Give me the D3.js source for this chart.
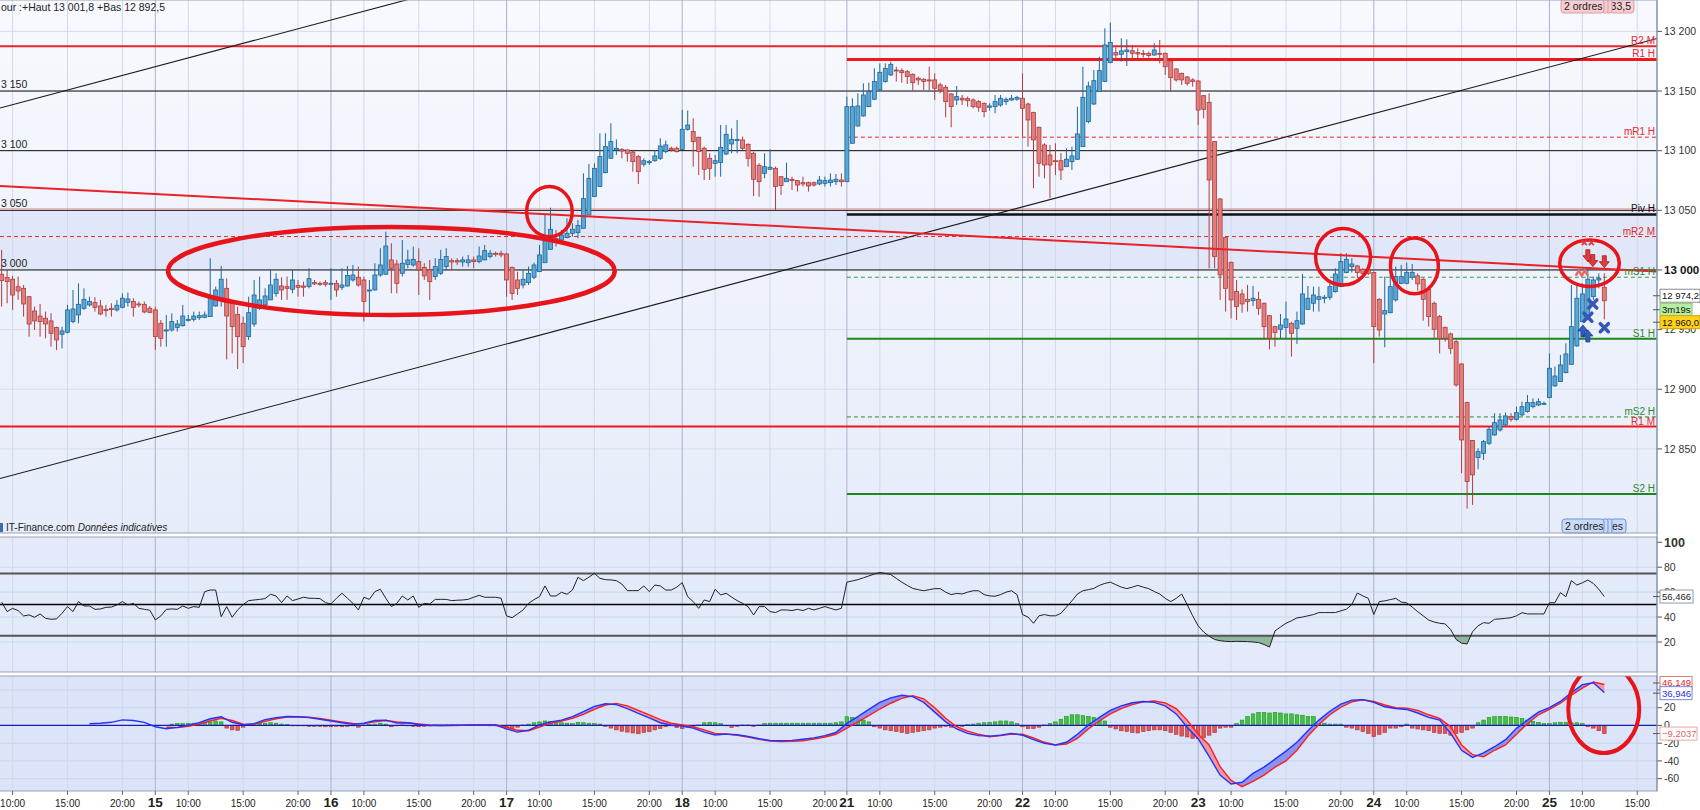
<!DOCTYPE html>
<html>
<head>
<meta charset="utf-8">
<script src="https://cdn.jsdelivr.net/npm/d3@7"></script>
<style>
  body { margin: 0; background: #fff; overflow: hidden; }
  svg { display: block; font-family: "Liberation Sans", Arial, sans-serif; }
</style>
</head>
<body>
<svg id="chart" width="1700" height="810"></svg>
<script>
// ---- data (30 min candles, index 0 = day 14 09:00) ----
const candles = [ // [open, high, low, close]
  [12996.4,13016.8,12969.3,12991.1],[12993.6,13000.0,12972.1,12990.2],[12992.2,12995.0,12966.5,12979.0],[12986.0,12994.4,12974.9,12982.4],
  [12984.6,12987.4,12960.9,12971.5],[12977.6,12978.2,12944.1,12954.7],[12965.6,12969.3,12949.7,12957.3],[12961.4,12971.5,12944.1,12956.7],
  [12959.5,12965.1,12942.7,12954.7],[12957.3,12963.7,12935.7,12946.9],[12951.7,12952.5,12932.9,12941.3],[12946.1,12952.5,12934.3,12948.9],
  [12947.8,12970.7,12946.9,12966.5],[12956.7,12983.2,12955.3,12967.3],[12962.3,12988.8,12955.3,12971.2],[12967.9,12984.6,12966.5,12975.4],
  [12970.7,12977.6,12969.3,12973.5],[12972.6,12977.1,12965.1,12968.7],[12969.8,12974.9,12962.3,12963.1],[12967.0,12970.7,12960.9,12965.9],
  [12967.6,12972.1,12960.9,12967.0],[12966.5,12974.9,12965.1,12970.4],[12968.7,12980.4,12967.9,12976.3],[12972.9,12981.0,12969.3,12975.7],
  [12973.5,12976.3,12960.9,12968.7],[12971.5,12973.5,12968.7,12970.7],[12971.2,12973.5,12963.7,12964.8],[12967.9,12969.8,12963.7,12964.5],
  // day 15
  [12966.5,12969.3,12933.0,12944.1],[12955.3,12958.1,12935.7,12942.7],[12949.2,12962.3,12935.7,12949.7],[12949.7,12963.7,12948.3,12956.7],
  [12951.9,12958.1,12948.3,12954.7],[12953.3,12970.7,12952.5,12961.4],[12958.1,12962.3,12956.7,12958.6],[12958.6,12965.1,12956.7,12961.4],
  [12960.0,12965.1,12958.1,12961.7],[12960.3,12965.1,12959.5,12962.3],[12960.9,13009.8,12960.9,12976.3],[12969.8,12986.0,12969.3,12983.2],
  [12974.9,13003.4,12969.3,12992.2],[12984.6,12993.0,12925.0,12961.4],[12972.1,12974.9,12930.0,12952.5],[12962.8,12969.3,12917.0,12944.1],
  [12955.3,12960.9,12922.0,12935.7],[12944.1,12977.6,12941.3,12964.2],[12954.7,12991.6,12952.5,12979.0],[12967.9,12994.4,12966.5,12974.9],
  [12970.7,12984.6,12969.3,12978.2],[12974.9,13000.6,12974.9,12987.4],[12980.4,12997.2,12977.6,12992.2],[12986.6,12993.9,12974.9,12983.2],
  [12986.0,12994.4,12974.9,12984.6],[12983.8,13000.0,12980.4,12991.6],[12987.1,12991.6,12977.6,12985.5],[12986.6,12990.2,12977.6,12985.5],
  [12986.0,13001.4,12984.6,12992.7],[12989.4,12991.6,12987.4,12988.3],[12988.8,12990.2,12986.6,12988.3],[12989.4,12991.6,12986.0,12988.0],
  // day 16
  [12988.0,13001.4,12974.9,12988.8],[12988.8,12991.6,12977.6,12983.2],[12985.5,13001.4,12983.2,12987.4],[12986.6,13003.4,12986.0,12995.3],
  [12991.6,13004.2,12990.2,12995.8],[12993.9,13002.8,12986.0,12987.4],[12991.6,12994.4,12956.7,12973.5],[12982.7,12991.6,12963.7,12983.2],
  [12983.2,13005.6,12982.7,12995.8],[12995.8,13018.2,12994.4,13004.2],[12996.4,13032.1,12995.8,13020.1],[13008.4,13022.4,12980.4,13001.4],
  [13005.0,13008.4,12980.4,12988.8],[12997.2,13025.1,12994.4,13005.6],[13004.7,13016.8,13001.4,13008.4],[13004.2,13019.6,13002.8,13008.9],
  [13007.0,13018.2,12979.0,13000.0],[13002.2,13005.6,12991.6,12995.0],[13000.0,13008.4,12974.9,12990.2],[12994.4,13009.8,12991.6,13002.8],
  [12997.2,13016.8,12995.8,13008.9],[13002.8,13018.2,13000.0,13011.2],[13007.8,13009.8,13000.0,13006.7],[13007.8,13009.8,13004.2,13006.7],
  [13006.7,13011.2,13002.8,13008.4],[13006.1,13012.6,13002.8,13008.4],[13008.4,13011.2,13001.4,13007.0],[13007.0,13019.6,13005.6,13011.7],
  [13008.4,13021.0,13008.4,13016.2],[13011.2,13016.8,13009.8,13014.0],[13014.0,13015.4,13011.2,13013.1],[13014.0,13016.2,13010.6,13012.6],
  // day 17
  [13013.4,13014.0,12977.6,12991.6],[13002.2,13002.8,12974.9,12980.4],[12991.6,12998.6,12979.0,12984.6],[12987.4,13000.0,12984.6,12992.2],
  [12989.4,13002.8,12987.4,12997.2],[12993.9,13006.1,12992.2,13004.2],[12998.6,13021.0,12998.6,13012.6],[13006.1,13046.1,13006.1,13025.1],
  [13017.3,13052.2,13016.8,13034.1],[13026.3,13033.5,13019.6,13025.1],[13025.1,13033.5,13023.7,13029.3],[13027.1,13043.3,13026.5,13030.7],
  [13030.7,13039.1,13027.9,13034.1],[13031.3,13041.9,13026.5,13037.2],[13034.9,13081.0,13034.9,13059.8],[13046.1,13088.9,13046.1,13076.8],
  [13061.5,13089.4,13061.5,13085.2],[13069.9,13114.6,13069.9,13095.0],[13081.6,13114.6,13081.0,13103.4],[13093.6,13122.9,13093.6,13107.6],
  [13100.6,13109.5,13096.4,13102.0],[13101.1,13102.0,13093.6,13099.7],[13100.6,13101.1,13090.8,13097.8],[13098.9,13100.6,13082.4,13090.8],
  [13095.0,13096.4,13072.1,13082.4],[13088.6,13093.6,13086.6,13091.6],[13090.0,13092.2,13088.0,13090.8],[13091.6,13100.6,13090.8,13095.6],
  [13093.6,13110.4,13092.2,13103.9],[13099.2,13108.4,13097.8,13104.8],[13102.0,13103.4,13099.2,13100.6],[13102.0,13103.4,13098.4,13099.2],
  // day 18
  [13101.1,13134.1,13100.6,13117.9],[13117.9,13133.6,13116.8,13121.5],[13116.0,13127.1,13086.6,13107.6],[13111.2,13111.8,13079.6,13099.2],
  [13102.0,13103.4,13075.4,13084.4],[13093.6,13097.8,13075.4,13085.2],[13089.4,13096.4,13078.2,13091.6],[13090.0,13121.5,13078.2,13102.8],
  [13097.2,13121.5,13096.4,13113.7],[13105.6,13118.7,13097.8,13109.5],[13108.4,13125.7,13097.8,13109.5],[13109.0,13111.8,13100.6,13102.0],
  [13105.3,13106.2,13086.6,13093.6],[13097.8,13099.2,13062.0,13076.0],[13087.7,13089.4,13061.5,13074.0],[13081.0,13097.8,13076.8,13086.6],
  [13084.4,13101.1,13083.8,13086.1],[13085.2,13086.6,13050.3,13069.9],[13078.2,13078.2,13062.9,13070.7],[13074.0,13090.0,13074.0,13076.8],
  [13076.0,13078.2,13067.1,13074.9],[13074.9,13075.4,13065.7,13071.2],[13073.2,13078.2,13069.9,13072.1],[13073.2,13074.0,13065.7,13070.4],
  [13073.2,13074.0,13069.9,13071.2],[13072.1,13078.8,13071.2,13075.4],[13072.6,13078.2,13069.9,13074.9],[13073.2,13081.0,13069.9,13075.4],
  [13074.0,13080.5,13071.2,13076.0],[13075.4,13081.0,13069.9,13074.0],
  // day 21
  [13074.0,13145.3,13074.0,13136.9],[13106.2,13143.9,13106.2,13136.9],[13120.7,13148.1,13120.1,13137.5],[13129.1,13156.5,13128.5,13146.7],
  [13136.9,13157.0,13136.4,13149.5],[13143.1,13169.0,13142.5,13157.9],[13150.9,13173.2,13150.3,13165.7],[13157.9,13173.2,13157.0,13169.0],
  [13163.5,13174.6,13162.6,13172.4],[13167.6,13170.4,13157.9,13166.8],[13167.1,13169.0,13157.0,13165.4],[13166.2,13167.6,13155.9,13162.1],
  [13164.0,13164.8,13150.3,13157.0],[13160.7,13162.1,13155.1,13159.3],[13159.8,13160.7,13150.9,13157.9],[13159.3,13170.4,13150.3,13158.4],
  [13159.3,13164.8,13142.5,13152.3],[13155.1,13157.0,13148.1,13150.9],[13153.1,13155.1,13128.0,13141.1],[13147.5,13148.1,13119.6,13136.9],
  [13142.5,13154.2,13138.3,13145.3],[13143.9,13146.7,13138.3,13142.5],[13143.6,13145.3,13136.9,13141.9],[13142.5,13143.9,13135.5,13136.9],
  [13141.1,13142.5,13132.7,13136.4],[13139.7,13140.3,13128.0,13132.7],[13136.4,13139.7,13133.6,13137.5],[13136.9,13146.7,13131.3,13141.1],
  [13138.3,13146.7,13136.9,13143.9],[13141.1,13144.7,13138.3,13143.1],[13142.5,13146.7,13141.9,13143.9],[13143.1,13145.9,13141.9,13144.5],
  // day 22
  [13143.9,13164.8,13111.8,13135.5],[13139.1,13140.3,13103.4,13125.7],[13131.9,13132.7,13068.5,13109.0],[13119.6,13120.1,13078.2,13089.4],
  [13104.8,13106.2,13076.8,13088.0],[13096.4,13104.8,13060.1,13088.0],[13091.6,13106.2,13079.6,13090.8],[13091.6,13097.8,13075.4,13083.8],
  [13086.6,13102.0,13086.6,13092.8],[13090.8,13103.4,13083.8,13095.6],[13092.8,13136.9,13092.2,13114.0],[13103.4,13170.4,13103.4,13144.7],
  [13124.3,13157.9,13122.9,13154.2],[13139.1,13167.6,13138.3,13158.7],[13149.5,13178.8,13149.5,13167.1],[13157.9,13202.6,13157.9,13188.6],
  [13173.8,13207.3,13173.2,13190.8],[13182.2,13186.6,13176.0,13180.2],[13180.8,13194.2,13174.6,13183.6],[13183.0,13193.3,13171.0,13184.4],
  [13183.8,13188.6,13176.0,13181.6],[13182.2,13185.8,13177.4,13181.1],[13181.6,13184.4,13178.0,13180.8],[13181.6,13183.0,13178.0,13179.7],
  [13180.2,13190.0,13179.7,13184.4],[13181.6,13192.8,13173.2,13180.8],[13181.6,13182.2,13163.5,13170.4],[13175.2,13176.0,13149.5,13161.2],
  [13168.5,13169.0,13157.9,13159.3],[13164.8,13165.4,13155.1,13159.3],[13161.8,13162.6,13154.5,13156.5],[13159.3,13160.7,13153.7,13157.9],
  // day 23
  [13158.4,13159.3,13121.5,13134.1],[13146.1,13146.7,13127.1,13134.7],[13140.5,13148.1,13001.4,13075.4],[13107.6,13108.1,13001.4,13011.2],
  [13059.5,13060.1,12974.9,12995.8],[13027.1,13027.9,12965.1,12984.6],[13006.4,13007.0,12959.5,12974.9],[12982.0,12991.6,12958.1,12969.3],
  [12979.9,12983.8,12964.2,12971.5],[12975.4,12987.4,12965.1,12973.5],[12974.3,12986.6,12969.8,12976.3],[12975.4,12981.8,12962.3,12967.9],
  [12972.1,12972.6,12941.3,12952.5],[12961.7,12962.3,12933.5,12942.7],[12952.5,12953.1,12935.7,12947.5],[12950.3,12963.1,12942.7,12953.9],
  [12951.9,12973.5,12942.7,12958.9],[12955.3,12956.7,12927.4,12946.9],[12951.1,12965.1,12938.0,12957.5],[12954.7,12996.6,12953.9,12979.9],
  [12967.0,12986.6,12966.5,12976.3],[12972.1,12986.0,12965.1,12979.0],[12975.4,12986.0,12965.1,12977.6],[12976.3,12979.0,12972.1,12977.1],
  [12977.1,12988.8,12974.9,12986.0],[12981.8,13001.4,12981.0,12996.6],[12986.0,13014.0,12986.0,13007.0],[12997.8,13014.0,12997.2,13008.9],
  [13002.8,13009.8,12997.8,13005.0],[13003.4,13004.2,12993.0,12997.8],[13000.6,13001.4,12995.8,12997.2],[13000.0,13001.4,12995.8,12997.2],
  // day 24
  [12997.8,12998.6,12921.8,12952.5],[12975.4,12976.3,12944.1,12949.7],[12963.1,12994.4,12935.2,12965.9],[12964.2,12997.2,12963.7,12986.0],
  [12974.9,13002.8,12973.5,12994.4],[12988.8,13004.2,12988.0,12994.4],[12988.8,13006.1,12988.0,12998.0],[12993.9,13005.0,12991.6,12998.0],
  [12995.0,12997.2,12982.7,12988.3],[12992.2,12993.0,12957.5,12975.4],[12983.8,12984.6,12952.5,12960.9],[12972.1,12973.5,12942.7,12950.3],
  [12960.9,12962.3,12930.1,12942.7],[12951.9,12952.5,12939.9,12942.7],[12946.4,12947.5,12929.6,12934.3],[12939.9,12941.3,12902.2,12903.6],
  [12921.2,12921.8,12829.6,12857.5],[12888.8,12889.6,12800.0,12822.6],[12857.0,12857.5,12803.0,12828.2],[12842.7,12850.5,12832.9,12847.7],
  [12846.3,12857.5,12840.7,12856.1],[12854.7,12868.7,12853.3,12866.4],[12861.7,12879.9,12860.9,12872.0],[12865.9,12879.9,12864.5,12874.3],
  [12870.1,12880.4,12869.2,12877.6],[12877.1,12879.9,12872.9,12874.8],[12874.8,12885.4,12873.7,12880.4],[12878.5,12889.6,12877.6,12885.4],
  [12881.3,12895.2,12880.4,12888.8],[12885.4,12892.4,12884.0,12888.8],[12886.8,12892.4,12885.9,12889.6],[12887.7,12889.6,12886.8,12888.2],
  // day 25
  [12893.0,12930.1,12892.5,12917.6],[12902.8,12919.0,12902.2,12911.1],[12906.4,12928.8,12906.4,12920.4],[12913.9,12938.5,12913.4,12929.6],
  [12920.9,12987.4,12920.4,12952.5],[12936.3,12987.4,12935.7,12976.3],[12956.7,12988.8,12956.7,12979.9],[12960.3,13001.8,12959.5,12992.2],
  [12977.6,12994.4,12974.9,12991.6],[12991.6,12997.2,12984.6,12993.0],[12985.5,12997.2,12958.6,12974.2]
];

const rsiValues = [
  52,44.4,47,45.2,40.9,41.7,39.8,42.5,39,38.2, 38.5,43,48.4,44.4,52.4,48.9,48.9,46.2,46.5,47.8,
  48,49.7,52.4,49.7,51,47,46.2,45.5,37.7,40.9, 46.2,46.5,46.2,48.9,47,48.4,47.8,60.4,61.7,61.7,
  40.3,48.4,39.8,45.7,50,53.2,53.7,54.2,54.8,58.3, 56.9,51.6,56.9,53.2,54.5,55.9,55.1,55,54.8,51.6,
  50.5,55.1,59.1,55.1,51,45.7,55.9,54.2,60.4,62.3, 55,48.4,51,56.9,53.7,56.9,47.8,51,50.5,54.2,
  54.2,54.2,53.2,53.5,53.7,54.2,55.9,57.4,55.9,55.9, 55.9,55.1,40.9,39.5,42.5,45.7,51,54,56.4,65,
  56.9,56.9,59.9,58.3,61.7,71.9,69.2,72,75.1,71.1, 70,69.8,69.2,66.5,61.2,61.2,61.2,65,60.4,65.7,
  65,61.7,61.7,64,67.6,56.4,52.4,47,53.7,52.4, 62.3,57.7,59.1,56,53.2,51,48.4,41.7,48.4,48.4,
  44.4,43.6,45.7,45.7,45.2,46.2,45.2,47,45.7,47, 48.4,47,45.7,47,68,69,70,71.5,73,74.5,
  75.8,75,74.1,71,68,65.4,63,62,61.1,62, 62.8,62.8,60,58,59,58.5,60,61.1,61.1,58,
  57,56.7,58,60,61.1,58,42,40,35,41, 42,41,41,43,48,53,58.5,61.1,62,63,
  65.4,67,68,66,64,62.8,64,65.4,64,62.8, 60.5,58.5,55,52.4,55,58.5,50,41,33,28,
  24.6,22,21,20.5,20.3,20.5,20.4,20.3,20,19.5, 18,15.9,28.9,32,35,37,39.3,40,41,42,
  43.6,43.6,43.6,43.6,45,46.3,50,59.3,57,55, 42,52.4,53,54,55,52,51.4,48,44.3,41,
  37.6,36,35,34.5,30,22,19,18.4,28.3,33, 35.5,35,38.2,38.5,39,39.5,41,43.5,42.5,42.5,
  42.5,42.5,51.5,51.5,59.6,56.3,69.2,65.7,67.5,69.7, 67,62.3,56.5
];

// MACD read every second candle, from candle 16 to 292
const macdFirstIndex = 16;
const macdLine = [
  1.9,2.4,3.5,6.2,5.5,3.5,-1.5,-3.8,-2.2,0.2, 3.2,7.5,9.8,3.5,0.8,2.0,6.5,8.8,10.1,9.8,
  8.8,7.0,5.0,3.0,1.2,2.5,5.5,6.0,2.6,3.0, 1.0,0,0,0.2,0.3,0.5,0.5,0.5,-3.8,-7.5,
  -5.5,0.5,4.0,6.0,10.0,15.5,21.5,24.4,23.5,19.0, 13.5,8.5,3.0,0.2,-0.7,-3.0,-7.5,-10.8,-9.8,-10.5,
  -12.5,-15,-17,-17.2,-16.8,-15.5,-14,-11.5,-8,2.3, 10,18,26,31,34,32.5,26,15,4,-4,
  -9,-11.5,-12,-11,-9,-11,-16,-20.2,-22.1,-19, -10,0.5,9,17,22,25.5,27,26,22,13,
  -2,-15,-35,-56,-66,-64,-54,-47,-38,-29, -19,-6,6,16,24,28.5,29,26,21,19,
  18,14,9,6,-9,-28,-36,-31,-24,-16, -3.3,6,15,20,27,37,46,48,37
];
const signalLine = [
  null,null,null,null,null,null,null,-2,-2.5,-1, 1.5,5,8,5.5,1.5,1.2,4.5,7.5,9.4,9.8,
  9.2,7.8,6,4,2.2,2,4,5.5,3.8,3, 1.6,0.4,0,0,0.2,0.4,0.5,0.5,-2,-5.5,
  -6,-2,2.5,5,8,12.5,18,23,24.8,22, 17,12,6.5,2.5,0.5,-1.5,-5,-9,-9.7,-11,
  -13,-15.7,-17.5,-18.3,-18,-17.2,-15.5,-13,-10,-3, 4,11,18.5,25,30.5,33.5,30,20,8,-1.5,
  -6.5,-10,-12.7,-11.5,-9.7,-10,-14,-19,-22.1,-21, -14.5,-4,5,13,19,23.5,26.5,27.5,25.5,19,
  6,-10,-22,-46.5,-62,-69,-63,-56,-47,-40, -28,-12,1,12,20.5,26.5,29,27,23,20,
  19.5,17,12,8,-1.5,-22,-33,-35.3,-28,-22, -10,2,12,18,25,34,42,49,46.1
];

// histogram, one bar per candle from candle 30
const histFirstIndex = 30;
const histValues = [
  0,1.5,2,2,2.5,2.5,2.5,3,4,5, 4,-3,-5,-5.5,-2,1,2,2.5,2.5,3,
  2.5,1.5,1,-0.5,-0.5,-0.5,-1,-1,-1,-1.5, -1.5,-1,-1.5,-1,-0.5,-2,0.5,1,1.5,2.5,
  1.5,-1.5,-0.5,0.5,-0.5,-1,-1.5,-1,-0.5,0.5, 0.5,0.5,0.5,0.5,0.3,0.3,-0.3,0.3,-0.3,-0.5,
  -0.5,-1.5,-4,-4.5,-2,0.5,1.5,3,4,5, 4.5,3.5,3,2.5,2,3.5,3,2.5,2,1.5,
  -1,-3,-5,-6.5,-7.5,-8.5,-9.4,-8,-7,-5, -3.5,-1.5,-0.5,-2.5,-3.5,-2,-1,0.5,3,3.5,
  3,2,-0.5,-2.5,-1,0.5,0.5,-1,0.5,2, 2.5,2.5,2.5,2.5,2.5,2.5,2.5,2.5,2.5,2.5,
  2.5,2.5,3,4,9.8,9,8,6,4,-1.5, -3,-5,-6,-7,-8,-9,-8,-7,-6,-5,
  -3,-2,-1,-2,-1,-1,1,1.5,2.5,3, 3.5,4,5,5,4,2,-1.5,-3.5,-3.5,-2,
  0.5,2,4,7,10,12,12,11,10,9, 8,5,-2,-4,-6,-7,-8,-8.5,-7,-6,
  -5,-5,-6,-8,-10,-12,-13,-14.7,-15,-14, -11,-8,-3,-2,-2,2,6,10,13,14.6,
  14.6,14,14.6,14,13,13,12,11.5,10,10, 2,2.5,1.5,1.5,1.5,-2,-3,-5,-7,-9,
  -12.7,-10,-8,-3,-3,-1.5,1.5,-3,-4,-5, -6,-8,-9,-9,-11,-9,-8,-5,-3,3,
  6,9,10,10,10,9.5,9,8,6,4.5, 3.5,2,2,3,3.5,3.5,3,3,2,-1.5,
  -3,-6,-9.2
];

// x axis ticks (candle index of each label)
const tickIndex = [2,12,22, 28,34,44,54, 60,66,76,86, 92,98,108,118, 124,130,140,150,
  154,160,170,180, 186,192,202,212, 218,224,234,244, 250,256,266,276, 282,288,298];
const tickLabels = ["10:00","15:00","20:00", "15","10:00","15:00","20:00", "16","10:00","15:00","20:00",
  "17","10:00","15:00","20:00", "18","10:00","15:00","20:00", "21","10:00","15:00","20:00",
  "22","10:00","15:00","20:00", "23","10:00","15:00","20:00", "24","10:00","15:00","20:00",
  "25","10:00","15:00"];

const priceTicks = [12850,12900,12950,13000,13050,13100,13150,13200];
const rsiTicks = [20,40,60,80,100];
const macdTicks = [-60,-40,-20,0,20,40];

// pivot levels
const levelNames = ["R2 M","R1 H","mR1 H","Piv H","mR2 M","mS1 H","S1 H","mS2 H","R1 M","S2 H"];
const levelPrices = [13187.5,13176.5,13111.3,13046.5,13028,12993.9,12942.4,12876.8,12868.7,12812.2];
const levelStart = [-0.3,154,154,154,-0.3,154,154,154,-0.3,154];

// round-number lines (label cut at the left edge)
const roundPrices = [13150,13100,13050,13000];
const roundLabels = ["3 150","3 100","3 050","3 000"];

// trendlines: [start index, start price, end index, end price]
const trendBlack = [[-0.3,13135.8,80,13234.0],[-0.3,12825.2,301.6,13194.1]];
const trendRed = [[-0.3,13070.4,301.6,12998.7]];

// hand-drawn circles on the price panel
const circleIndex = [71.0,99.8,244.4,257.4,289.3];
const circlePrice = [12999.2,13048.9,13011.1,13003.4,13005.6];
const circleRadIndex = [40.7,4.15,5.0,4.37,5.43];
const circleRadPrice = [36.9,21,23.7,23.3,19.5];
const macdCircle = [291.9,18.5,6.47,49.6];

// order markers near the last candles
const markerType = ["redx","down","down","down","chev","bluex","bluex","bluex","up","up"];
const markerIndex = [289,289,289.9,292,287.9,289.9,289,292,288.1,289];
const markerPrice = [13022.4,13011.1,13007,13006.1,12997.7,12971.5,12960.4,12951.6,12949.7,12945.5];

const lastPrice = 12974.2, bidPrice = 12960.0, countdown = "3m19s";
const rsiLast = 56.466, signalLast = 46.149, macdLast = 36.946, histLast = -9.2037;

// ---- layout ----
const plotR = 1657;
const mainB = 533, rsiT = 537, rsiB = 672, macdT = 676, macdB = 791;

const svg = d3.select("#chart");
const x = d3.scaleLinear().domain([-0.3, 301.6]).range([0, plotR]);
const yP = d3.scaleLinear().domain([12779.5, 13226.3]).range([mainB, 0]);
const yR = d3.scaleLinear().domain([-4.1, 104.25]).range([rsiB, rsiT]);
const yM = d3.scaleLinear().domain([-73.9, 55.7]).range([macdB, macdT]);

const fr = d3.formatLocale({decimal: ",", thousands: " ", grouping: [3], currency: ["", ""]});
const fmtP = fr.format(",.0f");
const fmt1 = fr.format(",.1f");

const defs = svg.append("defs");
const g1 = defs.append("linearGradient").attr("id", "mainBg").attr("x1", 0).attr("y1", 0).attr("x2", 0).attr("y2", 1);
g1.append("stop").attr("offset", "0%").attr("stop-color", "#f8f9fe");
g1.append("stop").attr("offset", "100%").attr("stop-color", "#e6ecfa");
defs.append("clipPath").attr("id", "clipMain").append("rect").attr("width", plotR).attr("height", mainB);
defs.append("clipPath").attr("id", "clipRsi").append("rect").attr("y", rsiT).attr("width", plotR).attr("height", rsiB - rsiT);
defs.append("clipPath").attr("id", "clipMacd").append("rect").attr("y", macdT).attr("width", plotR).attr("height", macdB - macdT);
defs.append("clipPath").attr("id", "clipLow").append("rect").attr("y", yR(25)).attr("width", plotR).attr("height", rsiB - yR(25));
defs.append("clipPath").attr("id", "clipHigh").append("rect").attr("y", rsiT).attr("width", plotR).attr("height", yR(75) - rsiT);

svg.append("rect").attr("width", 1700).attr("height", 810).attr("fill", "#fff");

// panel backgrounds
svg.append("rect").attr("width", plotR).attr("height", mainB).attr("fill", "url(#mainBg)");
svg.append("rect").attr("y", yP(13050)).attr("width", plotR).attr("height", yP(13000) - yP(13050)).attr("fill", "#dfe7f9");
svg.append("rect").attr("y", rsiT).attr("width", plotR).attr("height", rsiB - rsiT).attr("fill", "#e3eafa");
svg.append("rect").attr("y", macdT).attr("width", plotR).attr("height", macdB - macdT).attr("fill", "#dbe4f8");

// grid
const grid = svg.append("g");
grid.selectAll(".hp").data(priceTicks).join("line")
  .attr("x1", 0).attr("x2", plotR).attr("y1", d => yP(d)).attr("y2", d => yP(d))
  .attr("stroke", "#d6dcea");
grid.selectAll(".hr").data(rsiTicks.filter(d => d < 100)).join("line")
  .attr("x1", 0).attr("x2", plotR).attr("y1", d => yR(d)).attr("y2", d => yR(d))
  .attr("stroke", "#cdd6ec");
grid.selectAll(".hm").data(macdTicks.filter(d => d !== 0)).join("line")
  .attr("x1", 0).attr("x2", plotR).attr("y1", d => yM(d)).attr("y2", d => yM(d))
  .attr("stroke", "#c8d2ea");
const isDay = l => l.indexOf(":") < 0;
[[0, mainB], [rsiT, rsiB], [macdT, macdB]].forEach(([t, b]) => {
  grid.append("g").selectAll("line").data(tickIndex).join("line")
    .attr("x1", d => x(d)).attr("x2", d => x(d)).attr("y1", t).attr("y2", b)
    .attr("stroke", (d, i) => isDay(tickLabels[i]) ? "#aab3c9" : "#d2d9e8");
});

// ---- price panel ----
const main = svg.append("g").attr("clip-path", "url(#clipMain)");

main.selectAll(".round").data(roundPrices).join("line")
  .attr("x1", 0).attr("x2", plotR).attr("y1", d => yP(d)).attr("y2", d => yP(d))
  .attr("stroke", "#111").attr("stroke-width", 1);
main.append("line").attr("x1", 0).attr("x2", plotR)
  .attr("y1", yP(13050) - 1.5).attr("y2", yP(13050) - 1.5).attr("stroke", "#f19a9a");

const levelStyle = {
  "R2 M": ["#e8262a", 2, null], "R1 H": ["#f01818", 3, null], "mR1 H": ["#e8262a", 1, "4,3"],
  "Piv H": ["#111", 2.5, null], "mR2 M": ["#e8262a", 1, "4,3"], "mS1 H": ["#3a9a3a", 1, "4,3"],
  "S1 H": ["#1d861d", 2, null], "mS2 H": ["#2d862d", 1, "4,3"], "R1 M": ["#f01818", 2, null], "S2 H": ["#1d861d", 2, null]
};
levelNames.forEach((n, i) => {
  const s = levelStyle[n];
  main.append("line")
    .attr("x1", x(levelStart[i])).attr("x2", plotR)
    .attr("y1", yP(levelPrices[i])).attr("y2", yP(levelPrices[i]))
    .attr("stroke", s[0]).attr("stroke-width", s[1]).attr("stroke-dasharray", s[2]);
});

main.selectAll(".tb").data(trendBlack).join("line")
  .attr("x1", d => x(d[0])).attr("y1", d => yP(d[1])).attr("x2", d => x(d[2])).attr("y2", d => yP(d[3]))
  .attr("stroke", "#1a1a1a").attr("stroke-width", 1.1);

// candles
const upFill = "#58a7d5", upLine = "#1f6699", dnFill = "#e27d7d", dnLine = "#b03c3c";
const cg = main.append("g");
candles.forEach((c, i) => {
  const [o, h, l, cl] = c;
  const up = cl >= o;
  const cx = x(i);
  cg.append("line").attr("x1", cx).attr("x2", cx).attr("y1", yP(h)).attr("y2", yP(l))
    .attr("stroke", up ? upLine : dnLine).attr("stroke-width", 1);
  const top = yP(Math.max(o, cl)), bot = yP(Math.min(o, cl));
  cg.append("rect").attr("x", cx - 2).attr("width", 4)
    .attr("y", top).attr("height", Math.max(1, bot - top))
    .attr("fill", up ? upFill : dnFill).attr("stroke", up ? upLine : dnLine).attr("stroke-width", 0.8);
});

main.selectAll(".tr").data(trendRed).join("line")
  .attr("x1", d => x(d[0])).attr("y1", d => yP(d[1])).attr("x2", d => x(d[2])).attr("y2", d => yP(d[3]))
  .attr("stroke", "#ea2128").attr("stroke-width", 2);

// circles
circleIndex.forEach((k, i) => {
  main.append("ellipse")
    .attr("cx", x(k)).attr("cy", yP(circlePrice[i]))
    .attr("rx", x(k + circleRadIndex[i]) - x(k))
    .attr("ry", yP(circlePrice[i] - circleRadPrice[i]) - yP(circlePrice[i]))
    .attr("fill", "none").attr("stroke", "#e8141c").attr("stroke-width", i === 0 ? 4.5 : 3.5);
});

// markers
markerType.forEach((t, i) => {
  const mx = x(markerIndex[i]), my = yP(markerPrice[i]);
  const m = main.append("g").attr("transform", `translate(${mx},${my})`);
  if (t === "down") {
    m.append("path").attr("d", "M-2,-7 L2,-7 L2,-1 L5,-1 L0,5 L-5,-1 L-2,-1 Z")
      .attr("fill", "#e23a3a").attr("stroke", "#a81c1c").attr("stroke-width", 0.8);
  } else if (t === "up") {
    m.append("path").attr("d", "M-2,7 L2,7 L2,1 L5,1 L0,-5 L-5,1 L-2,1 Z")
      .attr("fill", "#2f5fbf").attr("stroke", "#1c3c8c").attr("stroke-width", 0.8);
  } else if (t === "bluex") {
    m.append("path").attr("d", "M-4,-4 L4,4 M4,-4 L-4,4")
      .attr("stroke", "#3557b5").attr("stroke-width", 3.5).attr("stroke-linecap", "round");
  } else if (t === "redx") {
    m.append("path").attr("d", "M-6,-3 L-1,2 M-1,-3 L-6,2 M1,-3 L6,2 M6,-3 L1,2")
      .attr("stroke", "#e23a3a").attr("stroke-width", 1.8);
  } else {
    m.append("path").attr("d", "M-6,3 L-3,-2 L0,3 L3,-2 L6,3")
      .attr("fill", "none").attr("stroke", "#e36a6a").attr("stroke-width", 2.5);
  }
});

// level labels (right) and round labels (left)
const lblColor = n => n === "Piv H" ? "#111" : (levelStyle[n][0].startsWith("#e") || levelStyle[n][0].startsWith("#f") ? "#e8262a" : "#2a8a2a");
svg.append("g").selectAll("text").data(levelNames).join("text")
  .attr("x", plotR - 2).attr("y", (d, i) => yP(levelPrices[i]) - 2)
  .attr("text-anchor", "end").attr("font-size", 10).attr("fill", d => lblColor(d)).text(d => d);
svg.append("g").selectAll("text").data(roundLabels).join("text")
  .attr("x", 1).attr("y", (d, i) => yP(roundPrices[i]) - 3)
  .attr("font-size", 10.5).attr("fill", "#222").text(d => d);

svg.append("text").attr("x", 1).attr("y", 11).attr("font-size", 10.5).attr("fill", "#222")
  .text("our :+Haut 13 001,8 +Bas 12 892,5");
const src = svg.append("text").attr("x", 6).attr("y", 531).attr("font-size", 10).attr("fill", "#222");
src.append("tspan").text("IT-Finance.com ");
src.append("tspan").attr("font-style", "italic").text("Données indicatives");
svg.append("rect").attr("x", -3).attr("y", 523).attr("width", 6).attr("height", 9).attr("fill", "#3d6bb3");

// order tabs: main tab with label, two thin stacked tabs, last tab with tail text
function orderTab(x0, y0, mainW, endX, fill, stroke, label, tail) {
  const h = 14;
  const t = svg.append("g");
  t.append("rect").attr("x", x0 + mainW + 6).attr("y", y0).attr("width", endX - x0 - mainW - 6).attr("height", h).attr("rx", 3)
    .attr("fill", fill).attr("stroke", stroke);
  t.append("text").attr("x", endX - 3).attr("y", y0 + h - 3.5).attr("text-anchor", "end")
    .attr("font-size", 10.5).attr("fill", "#222").text(tail);
  t.append("rect").attr("x", x0 + mainW + 2).attr("y", y0).attr("width", 6).attr("height", h).attr("rx", 2)
    .attr("fill", fill).attr("stroke", stroke);
  t.append("rect").attr("x", x0 + mainW - 2).attr("y", y0).attr("width", 6).attr("height", h).attr("rx", 2)
    .attr("fill", fill).attr("stroke", stroke);
  t.append("rect").attr("x", x0).attr("y", y0).attr("width", mainW).attr("height", h).attr("rx", 3)
    .attr("fill", fill).attr("stroke", stroke);
  t.append("text").attr("x", x0 + 3).attr("y", y0 + h - 3.5).attr("font-size", 10.5).attr("fill", "#222").text(label);
}
orderTab(1561, -1, 43, 1634, "#f6cdd1", "#e29aa1", "2 ordres", "33,5");
orderTab(1562, 519, 42, 1626, "#c9daf6", "#6f95d6", "2 ordres", "es");

// ---- RSI panel ----
const rsiG = svg.append("g").attr("clip-path", "url(#clipRsi)");
rsiG.append("path").datum(rsiValues).attr("clip-path", "url(#clipLow)")
  .attr("d", d3.area().x((d, i) => x(i)).y0(yR(25)).y1(d => yR(d))).attr("fill", "#7fae8c").attr("opacity", 0.85);
rsiG.append("path").datum(rsiValues).attr("clip-path", "url(#clipHigh)")
  .attr("d", d3.area().x((d, i) => x(i)).y0(yR(75)).y1(d => yR(d))).attr("fill", "#e89a9a").attr("opacity", 0.8);
[[75, "#555", 2], [25, "#555", 2], [50, "#000", 1.5]].forEach(([v, c, w]) => {
  rsiG.append("line").attr("x1", 0).attr("x2", plotR).attr("y1", yR(v)).attr("y2", yR(v))
    .attr("stroke", c).attr("stroke-width", w);
});
rsiG.append("path").datum(rsiValues)
  .attr("d", d3.line().x((d, i) => x(i)).y(d => yR(d)))
  .attr("fill", "none").attr("stroke", "#222").attr("stroke-width", 1);

// ---- MACD panel ----
const macdG = svg.append("g").attr("clip-path", "url(#clipMacd)");
macdG.selectAll(".hb").data(histValues).join("rect")
  .attr("x", (d, i) => x(i + histFirstIndex) - 1.8).attr("width", 3.6)
  .attr("y", d => d >= 0 ? yM(d) : yM(0)).attr("height", d => Math.abs(yM(d) - yM(0)))
  .attr("fill", d => d >= 0 ? "#3fc43f" : "#e05555")
  .attr("stroke", d => d >= 0 ? "#229022" : "#b03030").attr("stroke-width", 0.6);

const mk = macdLine.map((d, i) => macdFirstIndex + 2 * i);
const fillCol = v => v >= 0 ? "#7d85ee" : "#f08c92";
const poly = pts => pts.map(p => [x(p[0]), yM(p[1])].join(",")).join(" ");
for (let i = 0; i < mk.length - 1; i++) {
  const a0 = macdLine[i], a1 = macdLine[i + 1], b0 = signalLine[i], b1 = signalLine[i + 1];
  if (b0 === null || b1 === null) continue;
  const d0 = a0 - b0, d1 = a1 - b1;
  if (d0 * d1 >= 0) {
    macdG.append("polygon").attr("points", poly([[mk[i], a0], [mk[i + 1], a1], [mk[i + 1], b1], [mk[i], b0]]))
      .attr("fill", fillCol(d0 + d1)).attr("opacity", 0.85);
  } else {
    const t = d0 / (d0 - d1);
    const kc = mk[i] + t * (mk[i + 1] - mk[i]), vc = a0 + t * (a1 - a0);
    macdG.append("polygon").attr("points", poly([[mk[i], a0], [kc, vc], [mk[i], b0]]))
      .attr("fill", fillCol(d0)).attr("opacity", 0.85);
    macdG.append("polygon").attr("points", poly([[kc, vc], [mk[i + 1], a1], [mk[i + 1], b1]]))
      .attr("fill", fillCol(d1)).attr("opacity", 0.85);
  }
}
macdG.append("line").attr("x1", 0).attr("x2", plotR).attr("y1", yM(0)).attr("y2", yM(0))
  .attr("stroke", "#1b1ba8").attr("stroke-width", 1.3);
macdG.append("path").datum(signalLine)
  .attr("d", d3.line().defined(d => d !== null).x((d, i) => x(mk[i])).y(d => yM(d)))
  .attr("fill", "none").attr("stroke", "#ff1e1e").attr("stroke-width", 1.4);
macdG.append("path").datum(macdLine)
  .attr("d", d3.line().x((d, i) => x(mk[i])).y(d => yM(d)))
  .attr("fill", "none").attr("stroke", "#2233ff").attr("stroke-width", 1.4);
macdG.append("ellipse")
  .attr("cx", x(macdCircle[0])).attr("cy", yM(macdCircle[1]))
  .attr("rx", x(macdCircle[0] + macdCircle[2]) - x(macdCircle[0]))
  .attr("ry", yM(macdCircle[1] - macdCircle[3]) - yM(macdCircle[1]))
  .attr("fill", "none").attr("stroke", "#e8141c").attr("stroke-width", 4);

// panel frames
[[0, mainB], [rsiT, rsiB], [macdT, macdB]].forEach(([t, b]) => {
  svg.append("rect").attr("x", -1).attr("y", t).attr("width", plotR + 1).attr("height", b - t)
    .attr("fill", "none").attr("stroke", "#97a1b5").attr("stroke-width", 1);
});

// ---- right axis ----
const ax = svg.append("g");
ax.selectAll(".tp").data(priceTicks).join("line")
  .attr("x1", plotR).attr("x2", plotR + 5).attr("y1", d => yP(d)).attr("y2", d => yP(d)).attr("stroke", "#555");
ax.selectAll(".lp").data(priceTicks).join("text")
  .attr("x", plotR + 7).attr("y", d => yP(d)).attr("dy", "0.36em")
  .attr("font-size", d => d === 13000 ? 11.5 : 10.5).attr("font-weight", d => d === 13000 ? "bold" : "normal")
  .attr("fill", d => d === 13000 ? "#111" : "#333").text(d => fmtP(d));
ax.selectAll(".tr2").data(rsiTicks).join("line")
  .attr("x1", plotR).attr("x2", plotR + 5).attr("y1", d => yR(d)).attr("y2", d => yR(d)).attr("stroke", "#555");
ax.selectAll(".lr").data(rsiTicks).join("text")
  .attr("x", plotR + 7).attr("y", d => yR(d)).attr("dy", "0.36em")
  .attr("font-size", d => d === 100 ? 12.5 : 10.5).attr("font-weight", d => d === 100 ? "bold" : "normal")
  .attr("fill", "#333").text(d => d);
ax.selectAll(".tm").data(macdTicks).join("line")
  .attr("x1", plotR).attr("x2", plotR + 5).attr("y1", d => yM(d)).attr("y2", d => yM(d)).attr("stroke", "#555");
ax.selectAll(".lm").data(macdTicks.filter(d => d < 40)).join("text")
  .attr("x", plotR + 7).attr("y", d => yM(d)).attr("dy", "0.36em")
  .attr("font-size", 10.5).attr("fill", "#333").text(d => d);
ax.append("line").attr("x1", plotR).attr("x2", plotR).attr("y1", 0).attr("y2", macdB).attr("stroke", "#7f8aa0");

function valueBox(yc, w, fill, stroke, color, label) {
  ax.append("line").attr("x1", plotR - 4).attr("x2", plotR + 4).attr("y1", yc).attr("y2", yc).attr("stroke", "#555");
  ax.append("rect").attr("x", plotR + 3).attr("y", yc - 6.5).attr("width", w).attr("height", 13)
    .attr("fill", fill).attr("stroke", stroke);
  ax.append("text").attr("x", plotR + 5).attr("y", yc).attr("dy", "0.36em")
    .attr("font-size", 9.5).attr("fill", color).text(label);
}
valueBox(yP(lastPrice) - 5, 40, "#fff", "#8c8c8c", "#111", fmt1(lastPrice));
valueBox(yP(lastPrice) + 9, 32, "#b5eea2", "#86c274", "#111", countdown);
valueBox(yP(bidPrice) + 4.5, 40, "#ffd31c", "#cfa400", "#111", fmt1(bidPrice));
valueBox(yR(rsiLast), 33, "#fff", "#8c9ab0", "#222", fr.format(",.3f")(rsiLast));
valueBox(yM(signalLast) - 1.5, 32, "#fff", "#e07a7a", "#e61e1e", fr.format(",.3f")(signalLast));
valueBox(yM(macdLast) + 0.5, 32, "#fff", "#7a86e0", "#1e2ee6", fr.format(",.3f")(macdLast));
valueBox(yM(histLast), 37, "#fff", "#e8a8a8", "#e36464", fr.format(",.4f")(histLast));

// ---- x axis ----
const xa = svg.append("g");
xa.selectAll("line").data(tickIndex).join("line")
  .attr("x1", d => x(d)).attr("x2", d => x(d)).attr("y1", macdB).attr("y2", macdB + 4).attr("stroke", "#666");
xa.selectAll("text").data(tickIndex).join("text")
  .attr("x", d => x(d)).attr("y", 807).attr("text-anchor", "middle")
  .attr("font-size", (d, i) => isDay(tickLabels[i]) ? 13.5 : 10)
  .attr("font-weight", (d, i) => isDay(tickLabels[i]) ? "bold" : "normal")
  .attr("fill", "#222").text((d, i) => tickLabels[i]);
</script>
</body>
</html>
